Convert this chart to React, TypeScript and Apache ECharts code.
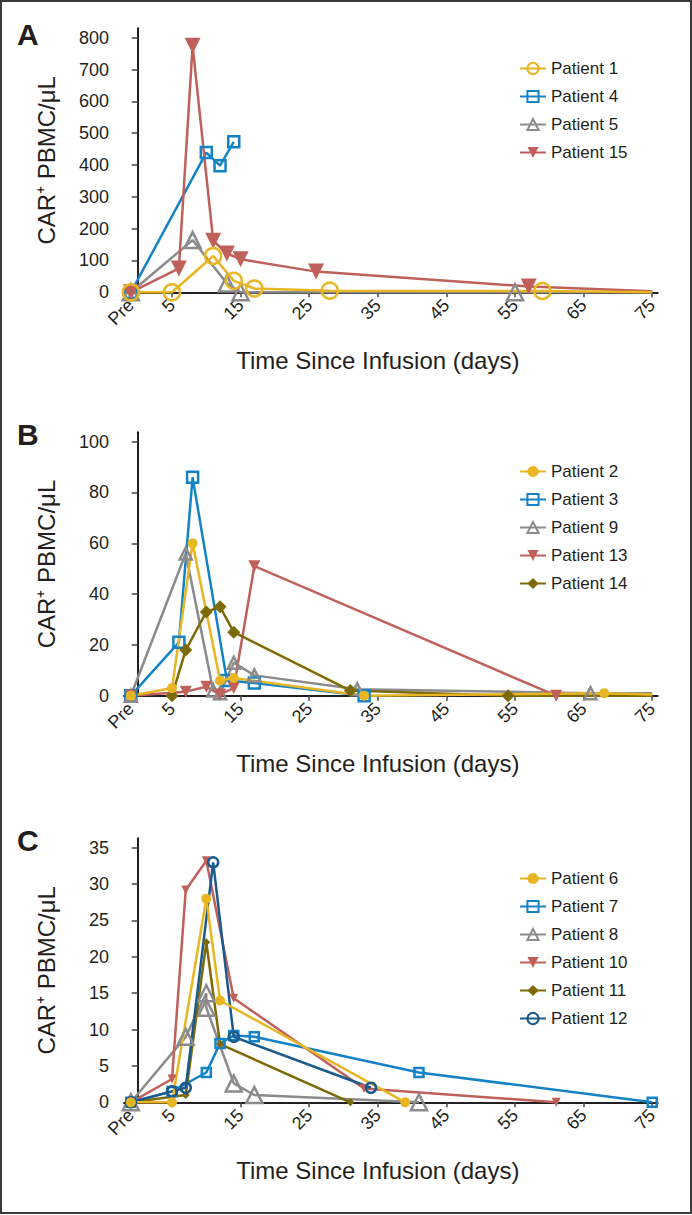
import { useEffect, useRef } from 'react';
import * as echarts from 'echarts';

const FONT = '"Liberation Sans", Arial, Helvetica, sans-serif';
const INK = '#231F20';

// Axis ticks
const PRE = -1;
const xTickValues = [PRE, 5, 15, 25, 35, 45, 55, 65, 75];
const yTicksA = [0, 100, 200, 300, 400, 500, 600, 700, 800];
const yTicksB = [0, 20, 40, 60, 80, 100];
const yTicksC = [0, 5, 10, 15, 20, 25, 30, 35];

// Colours
const YELLOW = '#E8B523';
const BLUE = '#1383C6';
const GRAY = '#8B8B8B';
const RED = '#C0605A';
const OLIVE = '#7D6A07';
const NAVY = '#1B5A8A';

// ---- Panel A ----
const p1Days = [PRE, 5, 11, 14, 17, 28, 59, 75];
const p1Vals = [0, 0, 114, 36, 12, 5, 4, 0];
const p4Days = [PRE, 10, 12, 14];
const p4Vals = [0, 439, 398, 473];
const p5Days = [PRE, 8, 13, 15, 55, 75];
const p5Vals = [0, 164, 28, 0, 0, 0];
const p15Days = [PRE, 6, 8, 11, 13, 15, 26, 57, 75];
const p15Vals = [0, 75, 775, 162, 122, 104, 65, 18, 3];

// ---- Panel B ----
const p2Days = [PRE, 5, 8, 12, 14, 33, 68, 75];
const p2Vals = [0, 3, 60, 6, 7, 0, 1, 0.5];
const p3Days = [PRE, 6, 8, 13, 17, 33];
const p3Vals = [0, 21, 86, 6, 5, 0];
const p9Days = [PRE, 7, 11, 12, 14, 17, 32, 66, 75];
const p9Vals = [0, 56, 2, 1, 13, 8, 2.5, 1, 1];
const p13Days = [PRE, 7, 10, 12, 14, 17, 61, 75];
const p13Vals = [0, 1.6, 3.5, 0.5, 3, 51, 0, 0];
const p14Days = [5, 7, 10, 12, 14, 31, 54, 75];
const p14Vals = [0, 18, 33, 35, 25, 2, 0, 0];

// ---- Panel C ----
const p6Days = [PRE, 5, 10, 12, 39];
const p6Vals = [0, 0, 28, 14, 0];
const p7Days = [PRE, 5, 10, 12, 14, 17, 41, 75];
const p7Vals = [0, 1.5, 4.1, 8.1, 9.2, 9, 4.1, 0];
const p8Days = [PRE, 7, 10, 10, 14, 17, 41];
const p8Vals = [0, 9, 15, 13, 2.6, 1, 0];
const p10Days = [PRE, 5, 7, 10, 14, 33, 61];
const p10Vals = [0, 3.2, 29.2, 33.2, 14.3, 1.9, 0];
const p11Days = [PRE, 7, 10, 12, 31];
const p11Vals = [0, 1, 22, 8, 0];
const p12Days = [PRE, 5, 7, 11, 14, 34];
const p12Vals = [0, 1.5, 2, 33, 9, 2];

// series whose last point (day 75) is only the end of the line, drawn without a marker
const lineOnlyTail = ['Patient 1', 'Patient 5', 'Patient 15', 'Patient 2', 'Patient 9', 'Patient 13', 'Patient 14'];

const legendA = ['Patient 1', 'Patient 4', 'Patient 5', 'Patient 15'];
const legendB = ['Patient 2', 'Patient 3', 'Patient 9', 'Patient 13', 'Patient 14'];
const legendC = ['Patient 6', 'Patient 7', 'Patient 8', 'Patient 10', 'Patient 11', 'Patient 12'];

type Mk = {
  name: string;
  days: number[];
  vals: number[];
  color: string;
  symbol: string;
  size: number;
  hollow?: boolean;
  down?: boolean;
  grid: number;
};

function makeSeries(m: Mk) {
  const tail = lineOnlyTail.includes(m.name);
  const data = m.days.map((d, i) => {
    const item: any = { value: [d, m.vals[i]] };
    if (tail && i === m.days.length - 1) item.symbol = 'none';
    return item;
  });
  return {
    type: 'line',
    name: m.name,
    xAxisIndex: m.grid,
    yAxisIndex: m.grid,
    data,
    color: m.color,
    symbol: m.symbol,
    symbolSize: m.size,
    symbolRotate: m.down ? 180 : 0,
    showAllSymbol: true,
    clip: false,
    lineStyle: { width: 2.5, color: m.color },
    itemStyle: m.hollow
      ? { color: 'rgba(255,255,255,0)', borderColor: m.color, borderWidth: 2.5 }
      : { color: m.color, borderWidth: 0 },
    emphasis: { disabled: true },
  };
}

const GRID_LEFT = 124;
const GRID_W = 533.7;
const grids = [
  { top: 28.3, height: 264, ymax: 829.5, ticks: yTicksA },
  { top: 432.3, height: 263.4, ymax: 103.7, ticks: yTicksB },
  { top: 838.3, height: 264, ymax: 36.3, ticks: yTicksC },
];

export default function App() {
  const ref = useRef<HTMLDivElement>(null);
  useEffect(() => {
    document.body.style.margin = '0';
    if (!ref.current) return;
    const chart = echarts.init(ref.current, null, { renderer: 'svg' });

    const series = [
      // A
      makeSeries({ name: 'Patient 4', days: p4Days, vals: p4Vals, color: BLUE, symbol: 'rect', size: 11, hollow: true, grid: 0 }),
      makeSeries({ name: 'Patient 5', days: p5Days, vals: p5Vals, color: GRAY, symbol: 'triangle', size: 16, hollow: true, grid: 0 }),
      makeSeries({ name: 'Patient 15', days: p15Days, vals: p15Vals, color: RED, symbol: 'triangle', size: 16, down: true, grid: 0 }),
      makeSeries({ name: 'Patient 1', days: p1Days, vals: p1Vals, color: YELLOW, symbol: 'circle', size: 16, hollow: true, grid: 0 }),
      // B
      makeSeries({ name: 'Patient 3', days: p3Days, vals: p3Vals, color: BLUE, symbol: 'rect', size: 11, hollow: true, grid: 1 }),
      makeSeries({ name: 'Patient 9', days: p9Days, vals: p9Vals, color: GRAY, symbol: 'triangle', size: 12, hollow: true, grid: 1 }),
      makeSeries({ name: 'Patient 13', days: p13Days, vals: p13Vals, color: RED, symbol: 'triangle', size: 12, down: true, grid: 1 }),
      makeSeries({ name: 'Patient 14', days: p14Days, vals: p14Vals, color: OLIVE, symbol: 'diamond', size: 13, grid: 1 }),
      makeSeries({ name: 'Patient 2', days: p2Days, vals: p2Vals, color: YELLOW, symbol: 'circle', size: 10, grid: 1 }),
      // C
      makeSeries({ name: 'Patient 7', days: p7Days, vals: p7Vals, color: BLUE, symbol: 'rect', size: 9, hollow: true, grid: 2 }),
      makeSeries({ name: 'Patient 8', days: p8Days, vals: p8Vals, color: GRAY, symbol: 'triangle', size: 16, hollow: true, grid: 2 }),
      makeSeries({ name: 'Patient 10', days: p10Days, vals: p10Vals, color: RED, symbol: 'triangle', size: 9, down: true, grid: 2 }),
      makeSeries({ name: 'Patient 11', days: p11Days, vals: p11Vals, color: OLIVE, symbol: 'diamond', size: 8, grid: 2 }),
      makeSeries({ name: 'Patient 12', days: p12Days, vals: p12Vals, color: NAVY, symbol: 'circle', size: 10, hollow: true, grid: 2 }),
      makeSeries({ name: 'Patient 6', days: p6Days, vals: p6Vals, color: YELLOW, symbol: 'circle', size: 10, grid: 2 }),
    ];

    const legendTops = [55, 458, 865];
    const legendData = [legendA, legendB, legendC];

    const option: any = {
      animation: false,
      backgroundColor: '#fff',
      textStyle: { fontFamily: FONT },
      grid: grids.map((g) => ({ left: GRID_LEFT, width: GRID_W, top: g.top, height: g.height })),
      xAxis: grids.map((_, i) => ({
        type: 'value',
        gridIndex: i,
        min: -2,
        max: 75.8,
        name: 'Time Since Infusion (days)',
        nameLocation: 'middle',
        nameGap: 56,
        nameTextStyle: { fontSize: 24, color: INK, fontFamily: FONT, padding: [0, 26, 0, 0] },
        axisLine: { show: true, onZero: false, lineStyle: { color: INK, width: 2 } },
        axisTick: { show: true, customValues: xTickValues, length: 5, lineStyle: { color: '#444', width: 1.5 } },
        axisLabel: {
          customValues: xTickValues,
          formatter: (v: number) => (v === PRE ? 'Pre' : String(v)),
          rotate: 45,
          fontSize: 18,
          margin: 10,
          color: INK,
          fontFamily: FONT,
        },
        splitLine: { show: false },
      })),
      yAxis: grids.map((g, i) => ({
        type: 'value',
        gridIndex: i,
        min: 0,
        max: g.ymax,
        name: 'CAR⁺ PBMC/μL',
        nameLocation: 'middle',
        nameGap: 66,
        nameTextStyle: { fontSize: 24, color: INK, fontFamily: FONT },
        axisLine: { show: true, lineStyle: { color: INK, width: 2 } },
        axisTick: { show: true, customValues: g.ticks, length: 6, lineStyle: { color: '#444', width: 1.5 } },
        axisLabel: { customValues: g.ticks, fontSize: 18, margin: 15, color: INK, fontFamily: FONT },
        splitLine: { show: false },
      })),
      legend: legendData.map((d, i) => ({
        data: d,
        orient: 'vertical',
        left: 514,
        top: legendTops[i],
        itemWidth: 26,
        itemHeight: 14,
        itemGap: 11,
        selectedMode: false,
        textStyle: { fontSize: 17, color: INK, fontFamily: FONT },
      })),
      graphic: [
        { type: 'rect', shape: { x: 1, y: 1, width: 690, height: 1212 }, style: { fill: 'none', stroke: '#3a3a3a', lineWidth: 2 }, silent: true },
        { type: 'text', left: 17, top: 19, style: { text: 'A', font: `bold 30px ${FONT}`, fill: INK } },
        { type: 'text', left: 17, top: 419, style: { text: 'B', font: `bold 30px ${FONT}`, fill: INK } },
        { type: 'text', left: 17, top: 825, style: { text: 'C', font: `bold 30px ${FONT}`, fill: INK } },
      ],
      series,
    };
    chart.setOption(option);
    return () => chart.dispose();
  }, []);
  return <div ref={ref} style={{ width: 692, height: 1215 }} />;
}
